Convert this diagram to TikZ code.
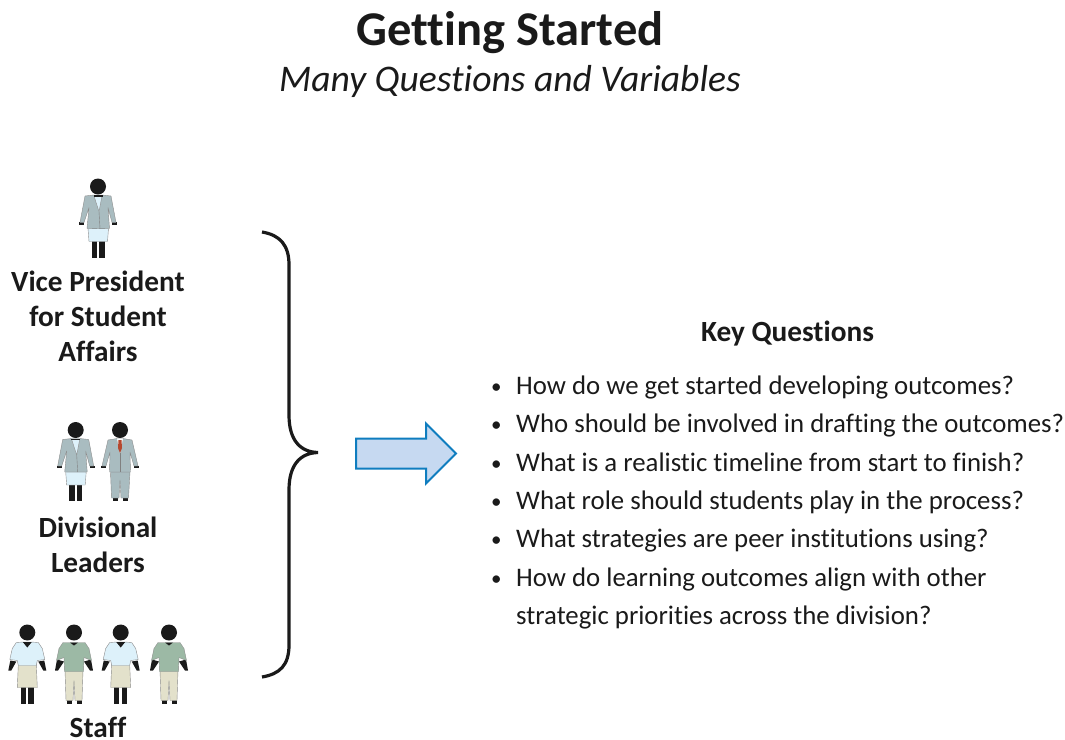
\documentclass[tikz,border=0pt]{standalone}
\usepackage{fontspec}
\setmainfont[Ligatures=NoCommon]{Carlito}
\usetikzlibrary{positioning,shapes.arrows}
\definecolor{suitgrey}{HTML}{A9BCC0}
\definecolor{blouseblue}{HTML}{DDF1FA}
\definecolor{shirtgreen}{HTML}{9CB9A5}
\definecolor{clothbeige}{HTML}{E3E1CB}
\definecolor{tiered}{HTML}{B5482F}
\definecolor{arrowfill}{HTML}{C6D9F1}
\definecolor{arrowline}{HTML}{0F7DBF}
\definecolor{inkblack}{HTML}{1A1A1A}
\newcommand{\qbullet}{\makebox[25pt][l]{\fontsize{21}{21}\selectfont\raisebox{1pt}{•}}}
\tikzstyle{title} = [
  font=\fontsize{48.5}{50}\selectfont\bfseries,
  text=inkblack,
  inner sep=0pt,
]
\tikzstyle{subtitle} = [
  font=\fontsize{37.6}{42}\selectfont\itshape,
  text=inkblack,
  inner sep=0pt,
]
\tikzstyle{role} = [
  font=\fontsize{29.3}{35}\selectfont\bfseries,
  text=inkblack,
  align=center,
  inner sep=0pt,
]
\tikzstyle{question} = [
  font=\fontsize{26.8}{33}\selectfont,
  text=inkblack,
  inner sep=0pt,
  text height=18pt,
  text depth=6pt,
  anchor=west,
]
\tikzstyle{cloth} = [
  draw=black!45,
  line width=0.4pt,
  line join=round,
]
\tikzset{
  womansuit/.pic={
    \fill[inkblack] (0,0) circle (8);
    \fill[inkblack] (-6.3,41) rectangle (-1.2,71);
    \fill[inkblack] (1.2,41) rectangle (6.5,71);
    \fill[inkblack] (-19,35.5) rectangle (-14,38);
    \fill[inkblack] (14,35.5) rectangle (19,38);
    \path[cloth,fill=blouseblue] (-10,42) -- (-9,55) -- (9.5,55) -- (10.5,42) -- cycle;
    \path[cloth,fill=suitgrey] (-13,9.5) -- (-4,8.5) -- (4,8.5) -- (13,9.5) -- (18,36) -- (14,36) -- (10,21)
      -- (11.5,42) -- (-11,42) -- (-9,21) -- (-14,36) -- (-18,36) -- cycle;
    \path[cloth,fill=blouseblue] (-4,9.5) -- (4,9.5) -- (1,25) -- cycle;
    \draw[black!50,line width=0.4pt] (1,25) -- (2,42);
    \fill[inkblack] (-4.5,8.5) rectangle (4.5,10);
  },
  mansuit/.pic={
    \fill[inkblack] (0,0) circle (8);
    \fill[inkblack] (-7,67) rectangle (-2.5,71);
    \fill[inkblack] (3,67) rectangle (7.5,71);
    \fill[inkblack] (-19,36) rectangle (-14,38);
    \fill[inkblack] (14,36) rectangle (19,38);
    \path[cloth,fill=suitgrey] (-9.5,42) -- (-8.5,68) -- (-1,68) -- (0,50) -- (1,68) -- (8.5,68) -- (10,42) -- cycle;
    \path[cloth,fill=suitgrey] (-12,10) -- (-3,8.5) -- (3,8.5) -- (12,10) -- (18,36) -- (14,36)
      -- (10,22) -- (10.5,42) -- (-10.5,42) -- (-10,22) -- (-14,36) -- (-18,36) -- cycle;
    \fill[white] (-3,8.5) -- (3,8.5) -- (0,23) -- cycle;
    \fill[tiered] (-1.5,10) -- (1.5,10) -- (2,18) -- (0,23) -- (-2,18) -- cycle;
    \draw[black!50,line width=0.4pt] (0,23) -- (0,42);
  },
  womanstaff/.pic={
    \fill[inkblack] (0,0) circle (8);
    \fill[inkblack] (-6.7,54) rectangle (-1.3,71);
    \fill[inkblack] (1,54) rectangle (6.3,71);
    \fill[inkblack] (-17,28) -- (-19,38) -- (-16,38) -- (-11,29) -- cycle;
    \fill[inkblack] (17,28) -- (19,38) -- (16,38) -- (11,29) -- cycle;
    \path[cloth,fill=clothbeige] (-9,32) -- (-10,55) -- (10,55) -- (9,32) -- cycle;
    \path[cloth,fill=blouseblue] (-11,10) -- (-4,9.5) -- (4,9.5) -- (11,10) -- (15,16) -- (17.5,27)
      -- (10,28) -- (9,33) -- (-9,33) -- (-10,28) -- (-17.5,27) -- (-15,16) -- cycle;
    \fill[inkblack] (-4.5,9.5) -- (4.5,9.5) -- (0,15) -- cycle;
  },
  manstaff/.pic={
    \fill[inkblack] (0,0) circle (8);
    \fill[inkblack] (-7,67) rectangle (-2.5,71.5);
    \fill[inkblack] (3,67) rectangle (7.5,71.5);
    \fill[inkblack] (-17,27) -- (-19,38) -- (-16,38) -- (-10,29) -- cycle;
    \fill[inkblack] (17,27) -- (19,38) -- (16,38) -- (10,29) -- cycle;
    \path[cloth,fill=clothbeige] (-9,38) -- (-8,68) -- (-1,68) -- (0,48) -- (1,68) -- (8,68) -- (9,38) -- cycle;
    \path[cloth,fill=shirtgreen] (-11,10) -- (11,10) -- (15,16) -- (17.5,28) -- (10,25) -- (9.5,39)
      -- (-9.5,39) -- (-10,25) -- (-17.5,28) -- (-15,16) -- cycle;
    \fill[inkblack] (-4,10) -- (4,10) -- (0,13) -- cycle;
  },
}

\begin{document}
\begin{tikzpicture}[
    x=1pt,
    y=-1pt,
  ]
  \useasboundingbox (0,0) rectangle (1065,739);
  \node[title] (maintitle) at (510,33) {Getting Started};
  \node[subtitle] (subtitle) at (510,81) {Many Questions and Variables};
  % left column
  \pic at (98,186.5) {womansuit};
  \node[role] (vp) at (98,316) {Vice President\\for Student\\Affairs};
  \pic at (75.7,430) {womansuit};
  \pic at (120,430) {mansuit};
  \node[role] (leaders) at (98,545) {Divisional\\Leaders};
  \pic at (27.3,632.5) {womanstaff};
  \pic at (74,632.5) {manstaff};
  \pic at (120.7,632.5) {womanstaff};
  \pic at (169,632.5) {manstaff};
  \node[role] (staff) at (98,727) {Staff};
  % brace and arrow
  \draw[inkblack, line width=3.2pt]
    (262,232) .. controls (280,235) and (289,245) .. (289,265)
    -- (289,415) .. controls (289,440) and (300,452) .. (318,452.5)
    .. controls (300,453) and (289,465) .. (289,490)
    -- (289,645) .. controls (289,665) and (280,674) .. (262,677);
  \node[
    single arrow,
    draw=arrowline,
    fill=arrowfill,
    line width=2pt,
    minimum height=100pt,
    minimum width=59pt,
    single arrow head extend=15pt,
    inner xsep=0pt,
    inner ysep=14pt,
  ] (gotoquestions) at (398.5,453.5) {};
  % questions
  \node[role] (keyq) at (787.5,334) {Key Questions};
  \node[question] (q1) at (491,388) {\qbullet How do we get started developing outcomes?};
  \node[question,below=38.2pt of q1.west,anchor=west] (q2) {\qbullet Who should be involved in drafting the outcomes?};
  \node[question,below=38.8pt of q2.west,anchor=west] (q3) {\qbullet What is a realistic timeline from start to finish?};
  \node[question,below=38.2pt of q3.west,anchor=west] (q4) {\qbullet What role should students play in the process?};
  \node[question,below=38.2pt of q4.west,anchor=west] (q5) {\qbullet What strategies are peer institutions using?};
  \node[question,below=39.5pt of q5.west,anchor=west] (q6) {\qbullet How do learning outcomes align with other};
  \node[question,below=37.5pt of q6.west,anchor=west] (q7) {\makebox[25pt][l]{}strategic priorities across the division?};
\end{tikzpicture}
\end{document}
